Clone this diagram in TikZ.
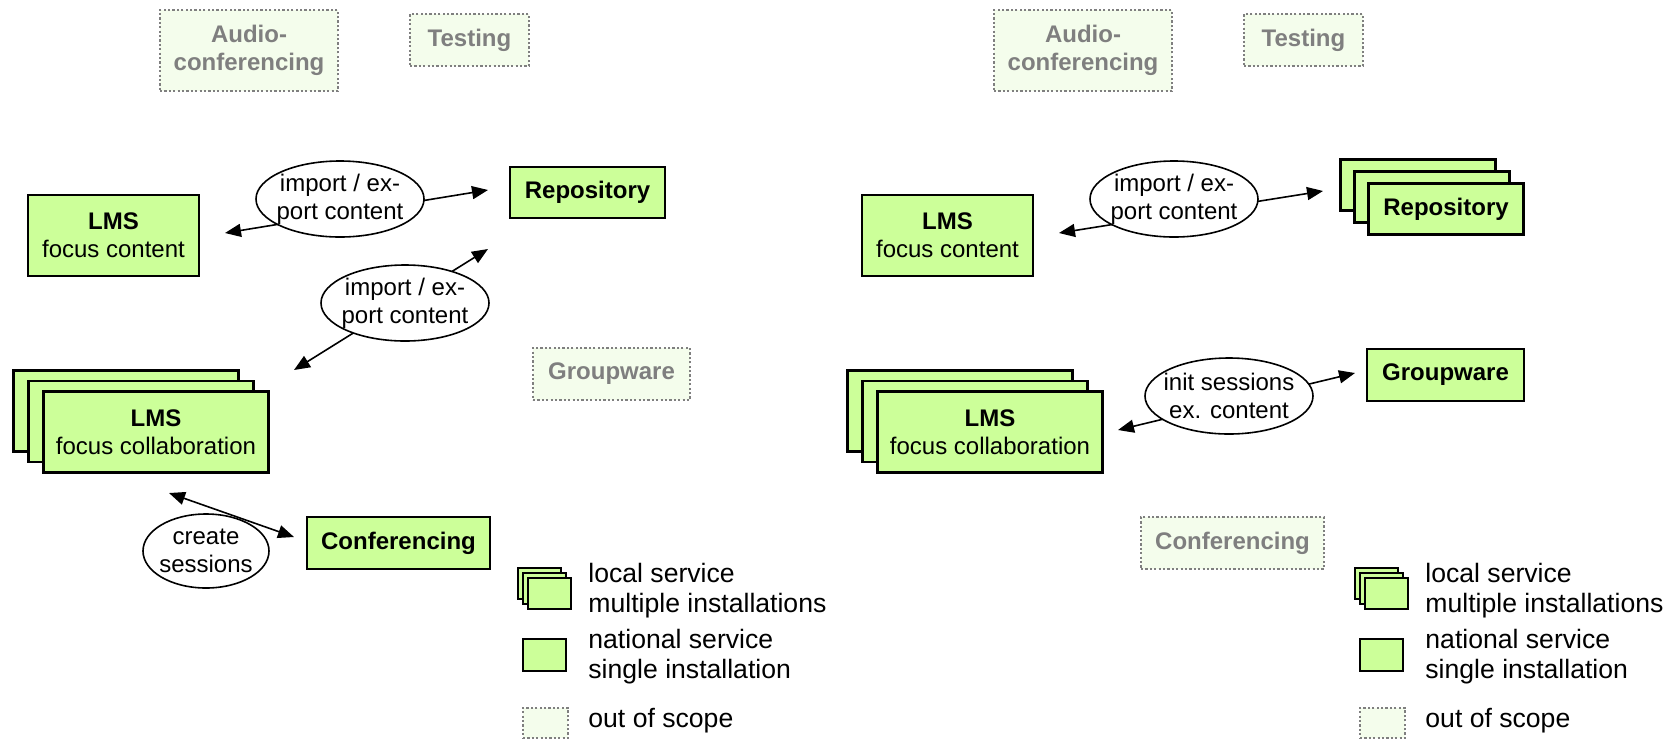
\documentclass[tikz,border=0pt]{standalone}
\usepackage{fontspec}
\setmainfont{Liberation Sans}
\usetikzlibrary{arrows.meta,shapes.geometric}

\definecolor{svcgreen}{HTML}{CCFF99}
\definecolor{oosfill}{HTML}{F4FDEC}
\definecolor{oosgray}{HTML}{7F7F7F}

\tikzset{
  svc/.style={draw=black, line width=1.2pt, fill=svcgreen, align=center, inner sep=0pt,
    font=\fontsize{12}{14}\selectfont},
  oos/.style={draw=oosgray, dash pattern=on 1.1pt off 1.1pt, line width=1.1pt, fill=oosfill,
    text=oosgray, align=center, inner sep=0pt, font=\fontsize{12}{14}\selectfont\bfseries},
  topic/.style={ellipse, draw=black, line width=0.8pt, fill=white, align=center,
    inner xsep=-4pt, inner ysep=0pt, font=\fontsize{12}{14}\selectfont},
  link/.style={{Triangle[length=8pt,width=6.5pt]}-{Triangle[length=8pt,width=6.5pt]}, line width=0.8pt},
  legicon/.style={draw=black, line width=0.9pt, fill=svcgreen, minimum width=21.5pt,
    minimum height=15.5pt, inner sep=0pt},
  legtext/.style={anchor=west, align=left, inner sep=0pt, font=\fontsize{13.3}{15}\selectfont}
}

\begin{document}
\begin{tikzpicture}[x=0.5pt, y=-0.5pt]
  \useasboundingbox (0,0) rectangle (1679,740);

  % left: current situation
  \node[oos, minimum width=89pt, minimum height=40.5pt] (audioL) at (249,50.5) {Audio-\\conferencing};
  \node[oos, minimum width=59.5pt, minimum height=26pt] (testL) at (469.5,40) {Testing};
  \node[svc, minimum width=85.5pt, minimum height=40.5pt] (lmsL) at (113.5,235.5) {\textbf{LMS}\\focus content};
  \node[svc, minimum width=77.5pt, minimum height=25.5pt] (repoL) at (587.5,192.5) {\textbf{Repository}};
  \node[oos, minimum width=78.5pt, minimum height=26pt] (groupL) at (611.5,374) {Groupware};
  \node[svc, minimum width=112.5pt, minimum height=40.5pt] (collabLa) at (126,411) {};
  \node[svc, minimum width=112.5pt, minimum height=40.5pt] (collabLb) at (141,421.5) {};
  \node[svc, minimum width=112.5pt, minimum height=40.5pt] (collabL) at (156,432) {\textbf{LMS}\\focus collaboration};
  \node[svc, minimum width=91.5pt, minimum height=26pt] (confL) at (398.5,543) {\textbf{Conferencing}};

  \coordinate (lmsLin) at (225,233);
  \coordinate (repoLin) at (488,190);
  \coordinate (repoLup) at (488,249);
  \coordinate (collabLin) at (294,370);
  \coordinate (collabLdn) at (169,493);
  \coordinate (confLin) at (294,537);
  \draw[link] (lmsLin) -- (repoLin);
  \draw[link] (collabLin) -- (repoLup);
  \draw[link] (collabLdn) -- (confLin);
  \node[topic, minimum width=84pt, minimum height=38pt] (contLa) at (340,199) {import / ex-\\port content};
  \node[topic, minimum width=84pt, minimum height=38pt] (contLb) at (405,303) {import / ex-\\port content};
  \node[topic, minimum width=63pt, minimum height=37pt] (sessL) at (206,551) {create\\sessions};

  % left legend
  \node[legicon] (keyLa) at (539.5,583.5) {};
  \node[legicon] (keyLb) at (544.5,588.5) {};
  \node[legicon] (keyLc) at (549.5,593.5) {};
  \node[legicon, minimum height=16pt] (keyLd) at (544.5,655) {};
  \node[legicon, oos, minimum width=22.5pt, minimum height=15pt] (keyLe) at (545.5,723) {};
  \node[legtext] (txtLa) at (588,590.5) {local service\\multiple installations};
  \node[legtext] (txtLb) at (588,656.5) {national service\\single installation};
  \node[legtext] (txtLc) at (588,721) {out of scope};

  % right: planned situation
  \node[oos, minimum width=89pt, minimum height=40.5pt] (audioR) at (1083,50.5) {Audio-\\conferencing};
  \node[oos, minimum width=59.5pt, minimum height=26pt] (testR) at (1303.5,40) {Testing};
  \node[svc, minimum width=85.5pt, minimum height=40.5pt] (lmsR) at (947.5,235.5) {\textbf{LMS}\\focus content};
  \node[svc, minimum width=77.5pt, minimum height=25.5pt] (repoRa) at (1418,185) {};
  \node[svc, minimum width=77.5pt, minimum height=25.5pt] (repoRb) at (1432,197) {};
  \node[svc, minimum width=77.5pt, minimum height=25.5pt] (repoR) at (1446,209) {\textbf{Repository}};
  \node[svc, minimum width=78.5pt, minimum height=26pt] (groupR) at (1445.5,375) {\textbf{Groupware}};
  \node[svc, minimum width=112.5pt, minimum height=40.5pt] (collabRa) at (960,411) {};
  \node[svc, minimum width=112.5pt, minimum height=40.5pt] (collabRb) at (975,421.5) {};
  \node[svc, minimum width=112.5pt, minimum height=40.5pt] (collabR) at (990,432) {\textbf{LMS}\\focus collaboration};
  \node[oos, minimum width=91.5pt, minimum height=26pt] (confR) at (1232.5,543) {Conferencing};

  \coordinate (lmsRin) at (1059,233);
  \coordinate (repoRin) at (1323,191);
  \coordinate (collabRin) at (1118,430);
  \coordinate (groupRin) at (1355,373);
  \draw[link] (lmsRin) -- (repoRin);
  \draw[link] (collabRin) -- (groupRin);
  \node[topic, minimum width=84pt, minimum height=38pt] (contR) at (1174,199) {import / ex-\\port content};
  \node[topic, minimum width=84pt, minimum height=38pt] (sessR) at (1229,396) {init sessions\\ex. content};

  % right legend
  \node[legicon] (keyRa) at (1376.5,583.5) {};
  \node[legicon] (keyRb) at (1381.5,588.5) {};
  \node[legicon] (keyRc) at (1386.5,593.5) {};
  \node[legicon, minimum height=16pt] (keyRd) at (1381.5,655) {};
  \node[legicon, oos, minimum width=22.5pt, minimum height=15pt] (keyRe) at (1382.5,723) {};
  \node[legtext] (txtRa) at (1425,590.5) {local service\\multiple installations};
  \node[legtext] (txtRb) at (1425,656.5) {national service\\single installation};
  \node[legtext] (txtRc) at (1425,721) {out of scope};
\end{tikzpicture}
\end{document}
